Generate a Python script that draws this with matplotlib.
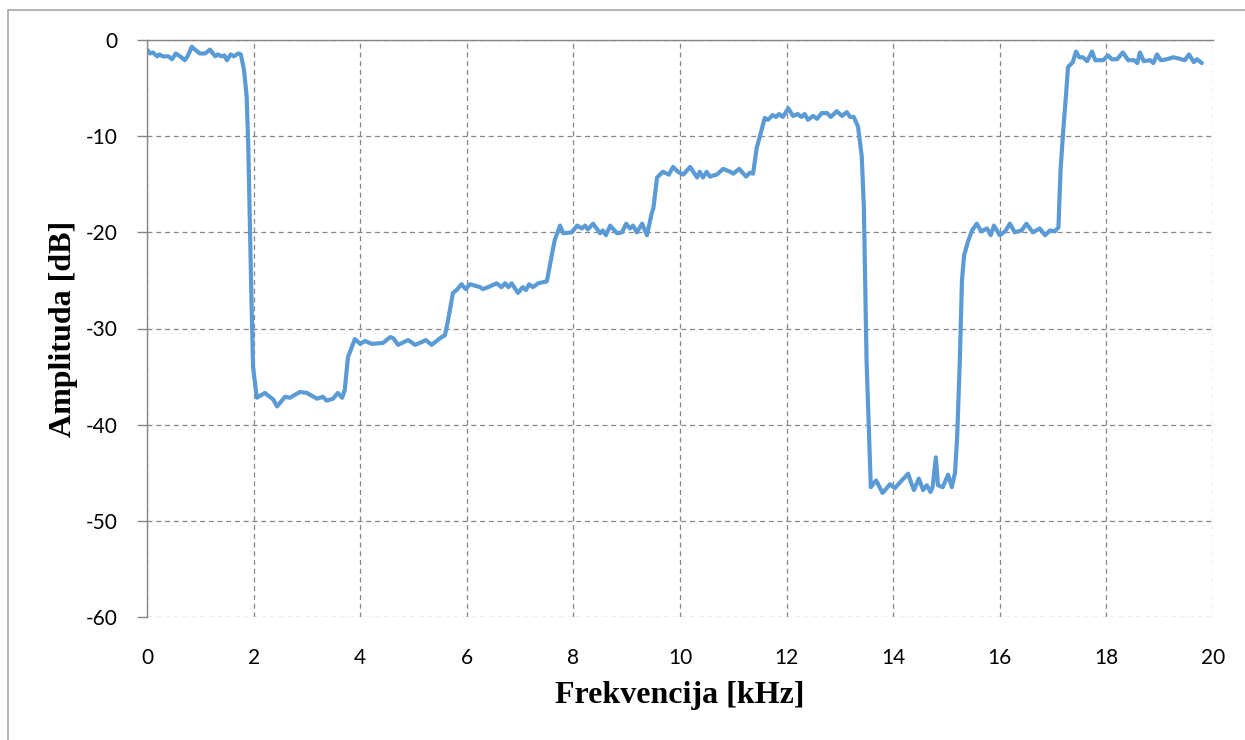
import matplotlib.pyplot as plt
from matplotlib.patches import Rectangle

# frequency [kHz] and amplitude [dB]
freq = [0.00, 0.06, 0.11, 0.19, 0.23, 0.30, 0.40, 0.47, 0.54, 0.62, 0.71, 0.77, 0.84, 0.90,
        0.99, 1.09, 1.18, 1.28, 1.33, 1.40, 1.45, 1.50, 1.57, 1.63, 1.71, 1.76, 1.82, 1.87,
        1.90, 1.96, 1.99, 2.06, 2.21, 2.37, 2.44, 2.59, 2.68, 2.87, 3.00, 3.19, 3.30, 3.37,
        3.49, 3.58, 3.66, 3.71, 3.77, 3.90, 4.00, 4.09, 4.22, 4.43, 4.56, 4.62, 4.71, 4.90,
        5.03, 5.16, 5.23, 5.34, 5.50, 5.59, 5.65, 5.74, 5.81, 5.90, 5.98, 6.06, 6.25, 6.30,
        6.40, 6.56, 6.65, 6.72, 6.78, 6.84, 6.96, 7.05, 7.11, 7.17, 7.24, 7.34, 7.50, 7.52,
        7.60, 7.65, 7.75, 7.81, 7.97, 8.07, 8.16, 8.22, 8.27, 8.37, 8.50, 8.55, 8.61, 8.69,
        8.82, 8.91, 8.99, 9.06, 9.12, 9.19, 9.29, 9.38, 9.47, 9.50, 9.57, 9.68, 9.79, 9.87,
        9.96, 10.06, 10.19, 10.32, 10.37, 10.43, 10.50, 10.56, 10.69, 10.81, 10.94, 11.00,
        11.11, 11.24, 11.31, 11.37, 11.44, 11.50, 11.59, 11.65, 11.74, 11.80, 11.86, 11.93,
        12.03, 12.12, 12.21, 12.28, 12.34, 12.40, 12.50, 12.57, 12.66, 12.76, 12.83, 12.94,
        13.04, 13.13, 13.19, 13.26, 13.34, 13.41, 13.45, 13.50, 13.54, 13.58, 13.68, 13.80,
        13.94, 14.03, 14.16, 14.28, 14.34, 14.39, 14.48, 14.56, 14.63, 14.70, 14.74, 14.80,
        14.84, 14.93, 15.03, 15.10, 15.16, 15.20, 15.25, 15.29, 15.33, 15.40, 15.48, 15.57,
        15.65, 15.76, 15.83, 15.89, 16.00, 16.10, 16.19, 16.28, 16.41, 16.50, 16.62, 16.75,
        16.85, 16.94, 17.03, 17.10, 17.14, 17.19, 17.24, 17.28, 17.37, 17.43, 17.49, 17.56,
        17.64, 17.73, 17.79, 17.94, 18.03, 18.10, 18.20, 18.31, 18.41, 18.52, 18.58, 18.63,
        18.70, 18.82, 18.88, 18.95, 19.02, 19.14, 19.25, 19.34, 19.47, 19.55, 19.64, 19.70,
        19.79]
amp = [-1.0, -1.4, -1.3, -1.7, -1.5, -1.7, -1.7, -2.0, -1.4, -1.7, -2.1, -1.6, -0.7, -1.0,
       -1.4, -1.4, -1.0, -1.7, -1.5, -1.7, -1.6, -2.1, -1.5, -1.7, -1.4, -1.5, -3.1, -5.9,
       -11.0, -27.0, -34.0, -37.2, -36.7, -37.4, -38.1, -37.1, -37.2, -36.6, -36.7, -37.3, -37.1, -37.5,
       -37.3, -36.7, -37.2, -36.4, -33.0, -31.1, -31.6, -31.3, -31.6, -31.5, -30.9, -31.0, -31.7, -31.2,
       -31.7, -31.4, -31.2, -31.7, -31.0, -30.7, -29.1, -26.3, -26.0, -25.4, -25.9, -25.4, -25.7, -25.9,
       -25.7, -25.3, -25.7, -25.3, -25.7, -25.3, -26.3, -25.7, -26.0, -25.4, -25.7, -25.3, -25.1, -24.6,
       -22.2, -20.8, -19.3, -20.1, -20.0, -19.3, -19.6, -19.3, -19.7, -19.1, -20.1, -19.8, -20.3, -19.3,
       -20.1, -20.0, -19.1, -19.6, -19.3, -20.0, -19.1, -20.3, -18.0, -17.5, -14.3, -13.7, -14.0, -13.2,
       -13.7, -14.0, -13.2, -14.3, -13.7, -14.3, -13.7, -14.2, -14.0, -13.4, -13.7, -13.9,
       -13.4, -14.2, -13.8, -13.9, -11.2, -10.0, -8.1, -8.3, -7.8, -8.0, -7.7, -8.0,
       -7.1, -7.9, -7.7, -8.0, -7.7, -8.3, -7.9, -8.2, -7.6, -7.6, -8.0, -7.4,
       -7.9, -7.5, -8.0, -8.0, -9.0, -12.1, -17.5, -33.3, -40.0, -46.5, -45.8, -47.1,
       -46.2, -46.6, -45.8, -45.1, -46.1, -46.8, -45.6, -46.8, -46.3, -47.0, -46.5, -43.4,
       -46.3, -46.5, -45.2, -46.5, -45.0, -41.3, -33.3, -25.0, -22.4, -21.0, -19.8, -19.1,
       -19.9, -19.6, -20.3, -19.3, -20.3, -19.9, -19.1, -20.0, -19.8, -19.1, -20.0, -19.6,
       -20.3, -19.8, -19.9, -19.5, -13.5, -9.4, -5.9, -2.8, -2.3, -1.2, -1.8, -1.8,
       -2.2, -1.2, -2.1, -2.1, -1.6, -2.0, -2.0, -1.3, -2.1, -2.1, -2.4, -1.3,
       -2.2, -2.1, -2.4, -1.5, -2.1, -2.0, -1.8, -1.9, -2.1, -1.5, -2.3, -2.0,
       -2.4]

x_ticks = [0, 2, 4, 6, 8, 10, 12, 14, 16, 18, 20]
y_ticks = [0, -10, -20, -30, -40, -50, -60]

grey = '#868686'

fig = plt.figure(figsize=(12.45, 7.40), dpi=100)
ax = fig.add_axes([147 / 1245, 1 - 617 / 740, (1213 - 147) / 1245, (617 - 40) / 740])

# outer chart frame (cut by the image on right/bottom)
fig.patches.append(Rectangle((8 / 1245, -0.1), 1.2, (730 / 740) + 0.1,
                             transform=fig.transFigure, fill=False,
                             edgecolor='#a6a6a6', linewidth=1.2))

ax.plot(freq, amp, color='#5b9bd5', linewidth=3.0,
        solid_joinstyle='round', solid_capstyle='round')

ax.set_xlim(0, 20)
ax.set_ylim(-60, 0)
ax.set_xticks(x_ticks)
ax.set_yticks(y_ticks)
ax.set_xticklabels([str(t) for t in x_ticks], fontname='Lato', fontsize=15)
ax.set_yticklabels([str(t) for t in y_ticks], fontname='Lato', fontsize=15)

ax.grid(True, color=grey, linestyle=(0, (4, 3)), linewidth=0.9)
ax.set_axisbelow(True)

for side in ['bottom', 'right']:
    ax.spines[side].set_visible(False)
for side in ['left', 'top']:
    ax.spines[side].set_color(grey)
    ax.spines[side].set_linewidth(1.0)

ax.tick_params(axis='y', length=7, color=grey, width=1.0, pad=14)
ax.tick_params(axis='x', length=0, pad=22)

ax.set_xlabel('Frekvencija [kHz]', fontname='Liberation Serif', fontweight='bold',
              fontsize=23, labelpad=10)
ax.set_ylabel('Amplituda [dB]', fontname='Liberation Serif', fontweight='bold',
              fontsize=23, labelpad=6)

fig.savefig('out.png', dpi=100)
